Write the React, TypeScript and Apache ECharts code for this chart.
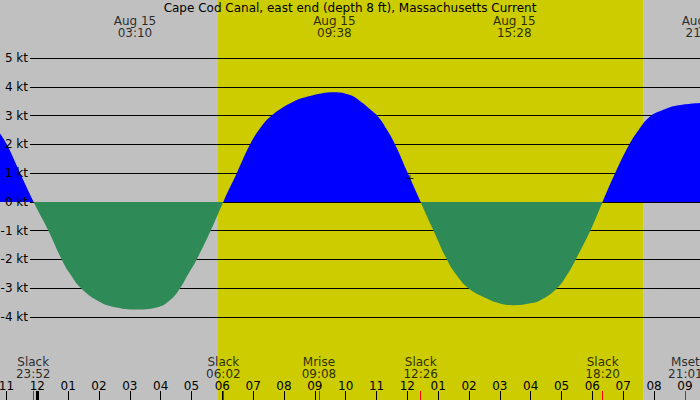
import React, { useEffect, useRef } from 'react';
import * as echarts from 'echarts';

const FONT = 'DejaVu Sans';

const title = 'Cape Cod Canal, east end (depth 8 ft), Massachusetts Current';

// visible time window, in hours after Aug 15 00:00
const windowStart = -1.21;
const windowEnd = 21.49;

const sunrise = '05:50';
const sunset = '19:40';

const hourTicks = [-1, 0, 1, 2, 3, 4, 5, 6, 7, 8, 9, 10, 11, 12, 13, 14, 15, 16, 17, 18, 19, 20, 21];

// current curve: hours after Aug 15 00:00, knots (+ flood, - ebb)
const curveHours = [
  -1.21, -0.99, -0.56, -0.12,
  0.36, 0.79, 1.06, 1.42, 2.03, 2.57, 3.17, 3.87, 4.3, 4.63, 4.9, 5.17, 5.62, 6.03,
  6.47, 6.9, 7.22, 7.6, 8.3, 8.85, 9.63, 10.14, 10.47, 10.79, 11.06, 11.33, 11.62, 11.98, 12.43,
  12.85, 13.28, 13.6, 13.98, 14.58, 15.0, 15.44, 15.87, 16.31, 16.85, 17.17, 17.46, 17.93, 18.33,
  18.74, 19.2, 19.5, 19.85, 20.3, 20.74, 21.49,
];
const curveKnots = [
  2.38, 2.0, 1.0, 0,
  -1.0, -2.0, -2.5, -3.0, -3.48, -3.67, -3.74, -3.67, -3.42, -3.0, -2.5, -2.0, -1.0, 0,
  1.0, 2.0, 2.55, 3.0, 3.48, 3.68, 3.81, 3.71, 3.5, 3.22, 2.95, 2.52, 1.95, 1.08, 0,
  -1.0, -2.0, -2.55, -3.0, -3.36, -3.53, -3.59, -3.55, -3.42, -3.0, -2.55, -2.0, -1.0, 0,
  1.0, 2.0, 2.5, 2.95, 3.2, 3.35, 3.44,
];

const peakDate = ['Aug 15', 'Aug 15', 'Aug 15', 'Aug 15'];
const peakClock = ['03:10', '09:38', '15:28', '21:35'];

const eventNames = ['Slack', 'Slack', 'Mrise', 'Slack', 'Slack', 'Mset'];
const eventClock = ['23:52', '06:02', '09:08', '12:26', '18:20', '21:01'];
const eventDay = [-1, 0, 0, 0, 0, 0];

const nowClock = '12:05';
const nowKnots = 0.81;

const NIGHT = '#c0c0c0';
const DAY = '#cccc00';
const FLOOD = '#0000ff';
const EBB = '#2e8b57';

const toHours = (clock: string, day = 0) => {
  const [h, m] = clock.split(':').map(Number);
  return day * 24 + h + m / 60;
};

const hourLabel = (v: number) => {
  const h = ((Math.round(v) % 12) + 12) % 12;
  return String(h === 0 ? 12 : h).padStart(2, '0');
};

const textBase = { fontFamily: FONT, fontSize: 12, color: '#000' };

export default function App() {
  const ref = useRef<HTMLDivElement>(null);

  useEffect(() => {
    document.body.style.margin = '0';
    if (!ref.current) return;
    const chart = echarts.init(ref.current, undefined, { renderer: 'svg' });

    const rise = toHours(sunrise);
    const set = toHours(sunset);
    const eventHours = eventClock.map((c, i) => toHours(c, eventDay[i]));
    const peakHours = peakClock.map((c) => toHours(c));

    const plotTop = 58;
    const plotHeight = 259;
    const noBounds = { outerBoundsMode: 'none', containLabel: false };

    const option: any = {
      animation: false,
      textStyle: { fontFamily: FONT },
      title: {
        text: title,
        left: 'center',
        top: 0,
        padding: 0,
        textStyle: { ...textBase, fontWeight: 'normal', lineHeight: 16 },
      },
      grid: [
        { left: 0, right: 0, top: 0, bottom: 0, ...noBounds },
        { left: 0, right: 0, top: plotTop, height: plotHeight, ...noBounds },
        { left: 30, right: 0, top: plotTop, height: plotHeight, ...noBounds },
      ],
      xAxis: [
        { gridIndex: 0, type: 'value', min: windowStart, max: windowEnd, show: false, position: 'top' },
        { gridIndex: 1, type: 'value', min: windowStart, max: windowEnd, show: false, position: 'bottom' },
        { gridIndex: 2, type: 'value', min: 0, max: 1, show: false, position: 'bottom' },
        {
          gridIndex: 0, type: 'value', min: windowStart, max: windowEnd, position: 'bottom', z: 6,
          axisLine: { show: false, onZero: false },
          splitLine: { show: false },
          axisTick: { inside: true, length: 9, customValues: hourTicks, lineStyle: { color: '#000', width: 1 } },
          axisLabel: { inside: true, margin: 8, customValues: hourTicks, formatter: hourLabel, ...textBase, lineHeight: 12 },
        },
        {
          gridIndex: 0, type: 'value', min: windowStart, max: windowEnd, position: 'bottom', z: 6,
          axisLine: { show: false, onZero: false },
          splitLine: { show: false },
          axisTick: { inside: true, length: 9, customValues: [0], lineStyle: { color: '#000', width: 3 } },
          axisLabel: { show: false },
        },
        {
          gridIndex: 0, type: 'value', min: windowStart, max: windowEnd, position: 'bottom', z: 7,
          axisLine: { show: false, onZero: false },
          splitLine: { show: false },
          axisTick: { inside: true, length: 9, customValues: eventHours, lineStyle: { color: '#ff0000', width: 1 } },
          axisLabel: { show: false },
        },
      ],
      yAxis: [
        { gridIndex: 0, type: 'value', min: 0, max: 1, show: false },
        { gridIndex: 1, type: 'value', min: -4, max: 5, show: false },
        {
          gridIndex: 2, type: 'value', min: -4, max: 5, interval: 1, position: 'left', z: 6,
          axisLine: { show: false }, axisTick: { show: false }, splitLine: { show: false },
          axisLabel: { formatter: '{value} kt', margin: 2, ...textBase },
        },
        {
          gridIndex: 2, type: 'value', min: -4, max: 5, interval: 1, position: 'left', z: 2,
          axisLine: { show: false }, axisTick: { show: false }, axisLabel: { show: false },
          splitLine: { show: true, lineStyle: { color: '#000', width: 1 } },
        },
      ],
      visualMap: {
        type: 'piecewise',
        show: false,
        dimension: 1,
        seriesIndex: 1,
        pieces: [
          { gte: -10, lt: 0, color: EBB },
          { gte: 0, lte: 10, color: FLOOD },
        ],
        outOfRange: { color: FLOOD },
      },
      series: [
        {
          type: 'line',
          xAxisIndex: 0,
          yAxisIndex: 0,
          data: [[windowStart, 0], [windowEnd, 0]],
          symbol: 'none',
          lineStyle: { width: 0, opacity: 0 },
          silent: true,
          z: 0,
          markArea: {
            silent: true,
            data: [
              [{ xAxis: windowStart, itemStyle: { color: NIGHT } }, { xAxis: rise }],
              [{ xAxis: rise, itemStyle: { color: DAY } }, { xAxis: set }],
              [{ xAxis: set, itemStyle: { color: NIGHT } }, { xAxis: windowEnd }],
            ],
          },
        },
        {
          type: 'line',
          xAxisIndex: 1,
          yAxisIndex: 1,
          data: curveHours.map((h, i) => [h, curveKnots[i]]),
          smooth: 0.45,
          symbol: 'none',
          showSymbol: false,
          lineStyle: { width: 0 },
          areaStyle: { opacity: 1 },
          silent: true,
          z: 4,
        },
        {
          type: 'scatter',
          xAxisIndex: 1,
          yAxisIndex: 1,
          data: [[toHours(nowClock), nowKnots]],
          symbol: 'path://M0,3H7V4H0Z M3,0H4V7H3Z',
          symbolSize: 7,
          itemStyle: { color: '#000' },
          silent: true,
          z: 8,
        },
        {
          type: 'scatter',
          xAxisIndex: 0,
          yAxisIndex: 0,
          clip: false,
          data: peakHours.map((h) => [h, 1]),
          symbol: 'circle',
          symbolSize: 1,
          itemStyle: { color: 'transparent' },
          silent: true,
          z: 8,
          label: {
            show: true,
            position: 'bottom',
            distance: 14,
            align: 'center',
            ...textBase,
            lineHeight: 12,
            formatter: (p: any) => `${peakDate[p.dataIndex]}\n${peakClock[p.dataIndex]}`,
          },
        },
        {
          type: 'scatter',
          xAxisIndex: 0,
          yAxisIndex: 0,
          clip: false,
          data: eventHours.map((h) => [h, 0]),
          symbol: 'circle',
          symbolSize: 1,
          itemStyle: { color: 'transparent' },
          silent: true,
          z: 8,
          label: {
            show: true,
            position: 'top',
            distance: 20,
            align: 'center',
            ...textBase,
            lineHeight: 12,
            formatter: (p: any) => `${eventNames[p.dataIndex]}\n${eventClock[p.dataIndex]}`,
          },
        },
      ],
    };

    chart.setOption(option);
    return () => chart.dispose();
  }, []);

  return <div ref={ref} style={{ width: 700, height: 400 }} />;
}
